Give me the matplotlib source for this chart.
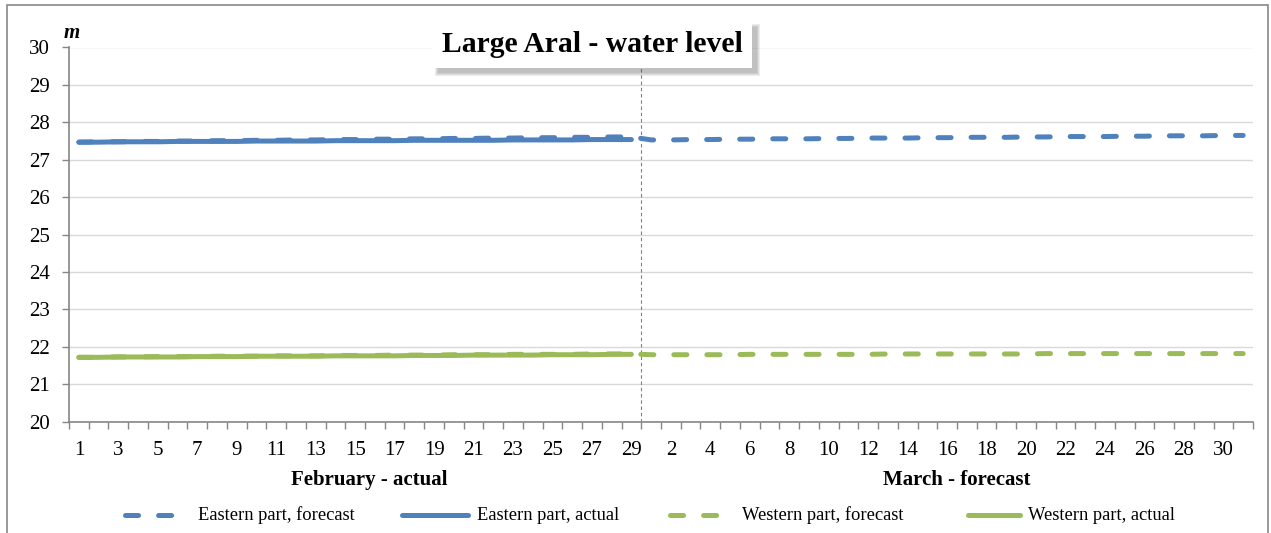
import numpy as np
import matplotlib.pyplot as plt
from matplotlib.patches import Rectangle
from matplotlib.lines import Line2D

plt.rcParams['font.family'] = ['Liberation Serif', 'DejaVu Serif']
plt.rcParams['lines.scale_dashes'] = False

# categories: February (actual) then March (forecast)
feb_days = [str(d) for d in range(1, 30)]
mar_days = [str(d) for d in range(1, 32)]
days = feb_days + mar_days

east_actual = [27.47, 27.47, 27.48, 27.48, 27.48, 27.49, 27.49, 27.49, 27.49, 27.50,
               27.50, 27.50, 27.50, 27.51, 27.51, 27.51, 27.51, 27.52, 27.52, 27.52,
               27.52, 27.52, 27.53, 27.53, 27.53, 27.53, 27.54, 27.54, 27.54]
east_forecast = [27.47, 27.48, 27.48, 27.49, 27.49, 27.50, 27.50, 27.51, 27.51, 27.52,
                 27.52, 27.53, 27.53, 27.54, 27.54, 27.55, 27.55, 27.56, 27.56, 27.57,
                 27.57, 27.58, 27.58, 27.59, 27.59, 27.60, 27.60, 27.61, 27.61,
                 27.53, 27.53, 27.54, 27.54, 27.55, 27.55, 27.56, 27.56, 27.56, 27.57,
                 27.57, 27.58, 27.58, 27.58, 27.59, 27.59, 27.60, 27.60, 27.60, 27.61,
                 27.61, 27.62, 27.62, 27.62, 27.63, 27.63, 27.64, 27.64, 27.64, 27.65,
                 27.65]
west_actual = [21.72, 21.72, 21.73, 21.73, 21.73, 21.73, 21.74, 21.74, 21.74, 21.75,
               21.75, 21.75, 21.75, 21.76, 21.76, 21.76, 21.76, 21.77, 21.77, 21.77,
               21.78, 21.78, 21.78, 21.78, 21.79, 21.79, 21.79, 21.80, 21.80]
west_forecast = [21.72, 21.72, 21.73, 21.73, 21.74, 21.74, 21.74, 21.75, 21.75, 21.75,
                 21.76, 21.76, 21.76, 21.77, 21.77, 21.77, 21.78, 21.78, 21.78, 21.79,
                 21.79, 21.79, 21.80, 21.80, 21.80, 21.80, 21.81, 21.81, 21.81,
                 21.79, 21.79, 21.79, 21.79, 21.79, 21.80, 21.80, 21.80, 21.80, 21.80,
                 21.80, 21.80, 21.81, 21.81, 21.81, 21.81, 21.81, 21.81, 21.81, 21.81,
                 21.82, 21.82, 21.82, 21.82, 21.82, 21.82, 21.82, 21.82, 21.82, 21.82,
                 21.82]

blue = '#4F81BD'
green = '#9BBB59'
lw = 3.6
dash = (9.4, 14.4)

W, H = 1271, 533
fig = plt.figure(figsize=(W / 100, H / 100), dpi=100)
ax = fig.add_axes([69 / W, 1 - 421.7 / H, (1253 - 69) / W, (421.7 - 47.5) / H])

x = np.arange(len(days))
xa = np.arange(len(feb_days))

ax.plot(xa, east_actual, color=blue, lw=lw, solid_capstyle='round', zorder=3)
ax.plot(x, east_forecast, color=blue, lw=lw, dashes=dash, dash_capstyle='round', zorder=3)
ax.plot(xa, west_actual, color=green, lw=lw, solid_capstyle='round', zorder=3)
ax.plot(x, west_forecast, color=green, lw=lw, dashes=dash, dash_capstyle='round', zorder=3)

# separator between February and March
sep = len(feb_days) - 0.5
ax.axvline(sep, color='#808080', lw=0.8, dashes=(2.5, 2), zorder=2)

ax.set_xlim(-0.5, len(days) - 0.5)
ax.set_ylim(20, 30)
ax.set_yticks(range(20, 31))
ax.grid(axis='y', color='#D9D9D9', lw=1)
ax.set_axisbelow(True)
for s in ['top', 'right']:
    ax.spines[s].set_visible(False)
for s in ['left', 'bottom']:
    ax.spines[s].set_color('#868686')
    ax.spines[s].set_linewidth(1.2)

ax.set_xticks(np.arange(-0.5, len(days), 1))
ax.set_xticklabels([])
ax.set_xticks(x[::2], minor=True)
ax.set_xticklabels(days[::2], minor=True)
ax.tick_params(axis='x', which='major', length=5, color='#868686', width=1)
ax.tick_params(axis='x', which='minor', length=0, pad=14, labelsize=15)
ax.tick_params(axis='y', length=5, color='#868686', width=1, pad=9, labelsize=15)

ax.text(-0.75, 30.12, 'm', fontsize=15, fontweight='bold', fontstyle='italic',
        ha='left', va='bottom')

# group labels under the axis
ax.text(14.7, -0.155, 'February - actual', transform=ax.get_xaxis_transform(),
        ha='center', va='center', fontsize=15, fontweight='bold')
ax.text(44.5, -0.155, 'March - forecast', transform=ax.get_xaxis_transform(),
        ha='center', va='center', fontsize=15, fontweight='bold')

# title box with a soft shadow towards the lower right
bx, by, bw, bh = 433, 68, 319, 46   # pixels, by = bottom edge from top
for k in range(4):
    fig.patches.append(Rectangle(((bx + 5 - k) / W, 1 - (by + 5 + k) / H),
                                 (bw + 2 * k) / W, (bh + 2 * k) / H,
                                 transform=fig.transFigure, facecolor='#505050',
                                 edgecolor='none', alpha=0.1, zorder=5))
fig.patches.append(Rectangle((bx / W, 1 - by / H), bw / W, bh / H, transform=fig.transFigure,
                             facecolor='white', edgecolor='none', zorder=6))
fig.text((bx + bw / 2) / W, 1 - (by - bh / 2) / H, 'Large Aral - water level',
         ha='center', va='center', fontsize=21.3, fontweight='bold', zorder=7)

# outer chart border
fig.patches.append(Rectangle((7 / W, -0.01), (1268 - 7) / W, 1 - 5 / H + 0.01,
                             transform=fig.transFigure, facecolor='none',
                             edgecolor='#888888', lw=1.2, zorder=1))

# legend drawn by hand at the reference positions
labels = ['Eastern part, forecast', 'Eastern part, actual',
          'Western part, forecast', 'Western part, actual']
colors = [blue, blue, green, green]
dashed = [True, False, True, False]
sample_x = [(122, 175), (400, 470), (667, 720), (965, 1023)]
text_x = [198, 477, 742, 1028]
ly = 1 - 515 / H
for lab, c, d, (x0, x1), tx in zip(labels, colors, dashed, sample_x, text_x):
    kw = dict(dashes=dash, dash_capstyle='round') if d else dict(solid_capstyle='round')
    fig.add_artist(Line2D([(x0 + 2.5) / W, (x1 - 2.5) / W], [ly, ly], color=c, lw=lw,
                          transform=fig.transFigure, **kw))
    fig.text(tx / W, ly, lab, ha='left', va='center', fontsize=13.3)

fig.savefig('out.png', dpi=100)
